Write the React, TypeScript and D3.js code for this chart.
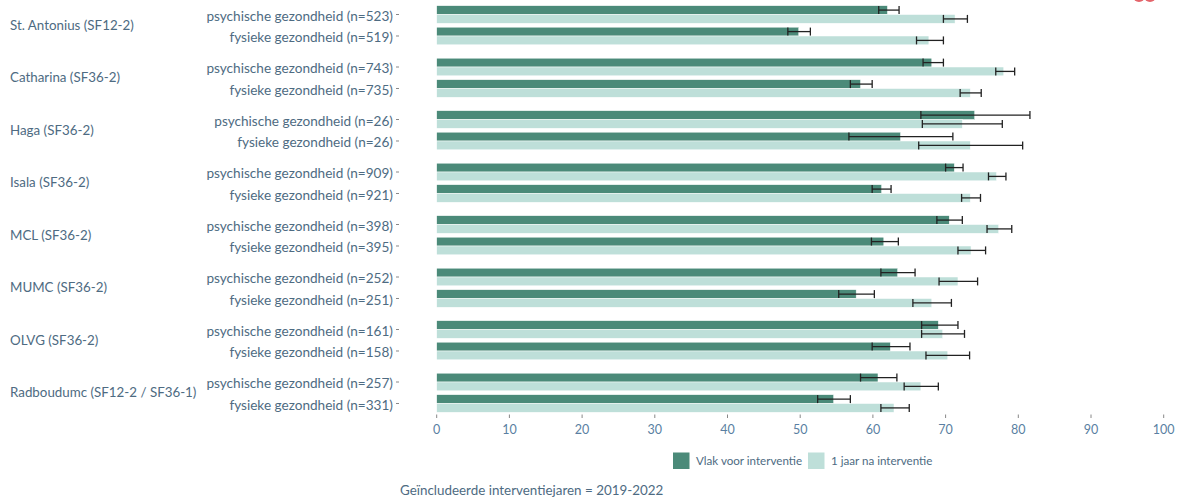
import React from "react";
import * as d3 from "d3";

const groups = [
  "St. Antonius (SF12-2)",
  "Catharina (SF36-2)",
  "Haga (SF36-2)",
  "Isala (SF36-2)",
  "MCL (SF36-2)",
  "MUMC (SF36-2)",
  "OLVG (SF36-2)",
  "Radboudumc (SF12-2 / SF36-1)",
];
const measures = ["psychische gezondheid", "fysieke gezondheid"];
const nValues = [
  [523, 519],
  [743, 735],
  [26, 26],
  [909, 921],
  [398, 395],
  [252, 251],
  [161, 158],
  [257, 331],
];
// "Vlak voor interventie": [mean, low, high] per group, per measure
const beforeValues = [
  [[62.0, 60.8, 63.6], [49.8, 48.3, 51.4]],
  [[68.1, 66.9, 69.7], [58.3, 56.9, 59.9]],
  [[74.0, 66.6, 81.6], [63.8, 56.7, 71.0]],
  [[71.2, 70.0, 72.4], [61.2, 59.9, 62.5]],
  [[70.5, 68.8, 72.3], [61.5, 59.8, 63.5]],
  [[63.4, 61.1, 65.8], [57.7, 55.3, 60.2]],
  [[69.0, 66.7, 71.7], [62.4, 59.9, 65.1]],
  [[60.7, 58.3, 63.3], [54.6, 52.4, 56.9]],
];
// "1 jaar na interventie"
const afterValues = [
  [[71.3, 69.7, 73.0], [67.7, 66.0, 69.7]],
  [[78.0, 76.9, 79.5], [73.4, 72.0, 74.9]],
  [[72.3, 66.8, 77.8], [73.4, 66.3, 80.6]],
  [[77.0, 75.9, 78.3], [73.4, 72.2, 74.8]],
  [[77.3, 75.7, 79.1], [73.5, 71.7, 75.5]],
  [[71.7, 69.1, 74.4], [68.1, 65.5, 70.8]],
  [[69.6, 66.7, 72.6], [70.3, 67.3, 73.3]],
  [[66.6, 64.3, 69.0], [62.9, 61.1, 65.0]],
];
const seriesNames = ["Vlak voor interventie", "1 jaar na interventie"];
const seriesColors = ["#4b8a79", "#bedfd9"];
const xTicks = [0, 10, 20, 30, 40, 50, 60, 70, 80, 90, 100];
const footnote = "Geïncludeerde interventiejaren = 2019-2022";

const FONT = "Lato, 'Open Sans', sans-serif";
const LABEL = "#4e6b82";
const TICKLBL = "#5a7fa2";

export default function App() {
  const W = 1182;
  const H = 503;
  const x = d3.scaleLinear().domain([0, 100]).range([436.7, 1163.7]);
  const gy = d3.scaleBand().domain(groups).range([-1, -1 + 8 * 52.5]).padding(0);
  const ry = d3
    .scaleBand()
    .domain(measures)
    .range([0, gy.bandwidth()])
    .paddingInner(0)
    .paddingOuter(0.221);
  const sy = d3
    .scaleBand()
    .domain(seriesNames)
    .range([0, ry.bandwidth()])
    .paddingInner(0)
    .paddingOuter(0.22);

  const data = [beforeValues, afterValues];

  return (
    <svg
      width={W}
      height={H}
      style={{ position: "absolute", left: 0, top: 0, fontFamily: FONT }}
    >
      <rect width={W} height={H} fill="#fff" />
      {/* partial red logo at top-right */}
      <circle cx={1139} cy={-4} r={6} fill="#e4646a" />
      <circle cx={1150} cy={-4} r={6} fill="#e4646a" />

      {/* x axis ticks */}
      {xTicks.map((t) => (
        <g key={t}>
          <line x1={x(t)} x2={x(t)} y1={414.5} y2={418} stroke="#888" strokeWidth={1} />
          <text
            x={x(t)}
            y={434}
            textAnchor="middle"
            fontSize={12.5}
            fill={TICKLBL}
          >
            {t}
          </text>
        </g>
      ))}

      {groups.map((g, gi) => {
        const g0 = gy(g)!;
        return (
          <g key={g}>
            <text
              x={10}
              y={g0 + gy.bandwidth() / 2}
              dy="0.35em"
              fontSize={13.35}
              fill={LABEL}
            >
              {g}
            </text>
            {measures.map((m, mi) => {
              const r0 = g0 + ry(m)!;
              const rc = r0 + ry.bandwidth() / 2;
              return (
                <g key={m}>
                  <text
                    x={393}
                    y={rc + 1.5}
                    dy="0.35em"
                    textAnchor="end"
                    fontSize={13.6}
                    fill={LABEL}
                  >
                    {`${m} (n=${nValues[gi][mi]})`}
                  </text>
                  <line x1={396} x2={399} y1={rc} y2={rc} stroke="#888" strokeWidth={1} />
                  {seriesNames.map((s, si) => {
                    const [v] = data[si][gi][mi];
                    const by = r0 + sy(s)!;
                    const bh = sy.bandwidth();
                    return (
                      <rect
                        key={s}
                        x={x(0)}
                        y={by}
                        width={x(v) - x(0)}
                        height={bh}
                        fill={seriesColors[si]}
                        stroke="#fff"
                        strokeWidth={0.5}
                      />
                    );
                  })}
                  {seriesNames.map((s, si) => {
                    const [, lo, hi] = data[si][gi][mi];
                    const by = r0 + sy(s)!;
                    const bh = sy.bandwidth();
                    const cy = by + bh / 2;
                    return (
                      <g key={s + "e"} stroke="#222" strokeWidth={1.3}>
                        <line x1={x(lo)} x2={x(hi)} y1={cy} y2={cy} />
                        <line x1={x(lo)} x2={x(lo)} y1={cy - 4} y2={cy + 4} />
                        <line x1={x(hi)} x2={x(hi)} y1={cy - 4} y2={cy + 4} />
                      </g>
                    );
                  })}
                </g>
              );
            })}
          </g>
        );
      })}

      {/* legend */}
      {seriesNames.map((s, i) => {
        const lx = i === 0 ? 673 : 808;
        return (
          <g key={s}>
            <rect x={lx} y={452.5} width={16.5} height={16.5} fill={seriesColors[i]} />
            <text x={lx + 23} y={461} dy="0.35em" fontSize={11.6} fill={LABEL}>
              {s}
            </text>
          </g>
        );
      })}

      <text x={400} y={490} dy="0.35em" fontSize={13.4} fill={LABEL}>
        {footnote}
      </text>
    </svg>
  );
}
